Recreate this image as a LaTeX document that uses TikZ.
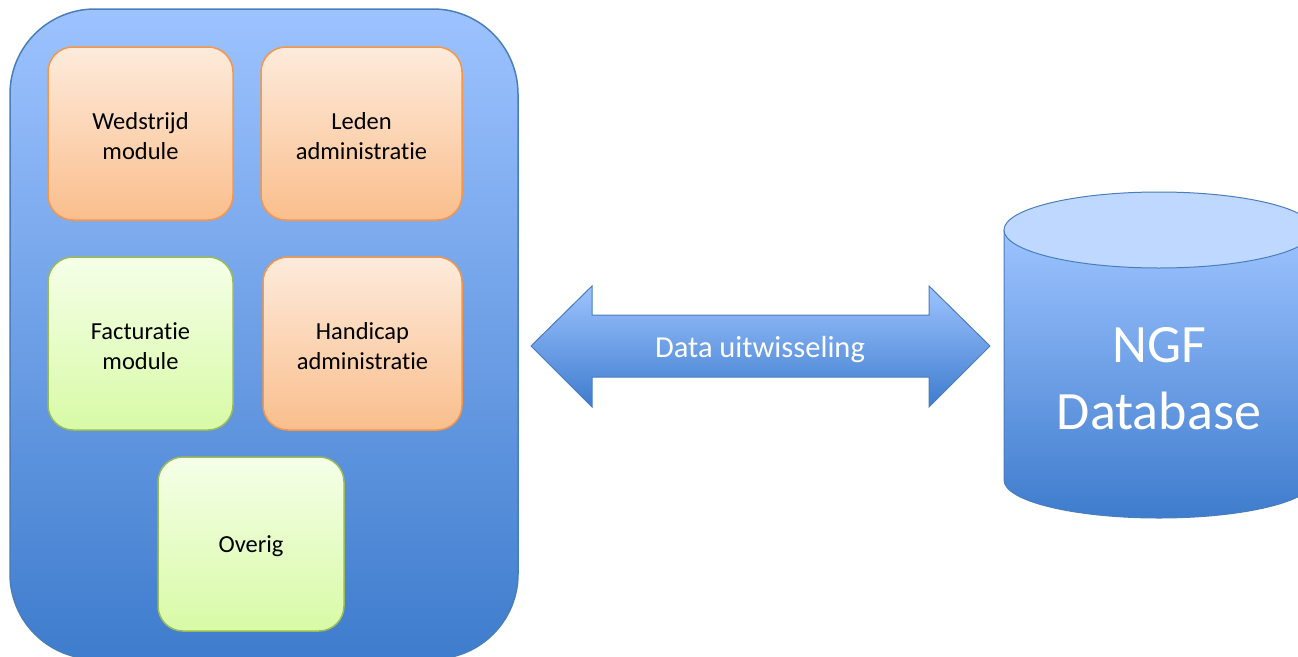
\documentclass[tikz,border=0pt]{standalone}
\usepackage{fontspec}
\setmainfont{Carlito}[RawFeature=-liga]
\definecolor{bgtop}{RGB}{157,195,255}
\definecolor{bgbot}{RGB}{62,124,205}
\definecolor{bgline}{RGB}{74,126,187}
\definecolor{ortop}{RGB}{253,235,220}
\definecolor{orbot}{RGB}{250,190,140}
\definecolor{orline}{RGB}{247,150,70}
\definecolor{grtop}{RGB}{245,255,232}
\definecolor{grbot}{RGB}{216,250,166}
\definecolor{grline}{RGB}{155,187,89}
\definecolor{cyltop}{RGB}{190,216,255}
\tikzset{
  modbox/.style={draw, line width=1.5pt, rounded corners=25pt, align=center,
    font=\fontsize{24.5}{30}\selectfont, text=black, inner sep=0pt},
  orbox/.style={modbox, draw=orline, top color=ortop, bottom color=orbot},
  grbox/.style={modbox, draw=grline, top color=grtop, bottom color=grbot},
}
\begin{document}
\begin{tikzpicture}[x=1pt,y=-1pt]
\useasboundingbox (0,0) rectangle (1298,656);
\clip (0,0) rectangle (1298,656);
% main container
\node[draw=bgline, line width=1.5pt, rounded corners=85pt, top color=bgtop, bottom color=bgbot,
  minimum width=508pt, minimum height=650pt, inner sep=0pt] (main) at (264,334) {};
% modules
\node[orbox, minimum width=185pt, minimum height=173pt] (wed) at (140.5,133.5) {};
\node[font=\fontsize{24.5}{30}\selectfont, align=center] (wedt) at (140.5,136) {Wedstrijd\\module};
\node[orbox, minimum width=201pt, minimum height=173pt] (leden) at (361.5,133.5) {};
\node[font=\fontsize{24.5}{30}\selectfont, align=center] (ledent) at (361.5,136) {Leden\\administratie};
\node[grbox, minimum width=185pt, minimum height=173pt] (fact) at (140.5,343.5) {};
\node[font=\fontsize{24.5}{30}\selectfont, align=center] (factt) at (140.5,346) {Facturatie\\module};
\node[orbox, minimum width=199pt, minimum height=173pt] (hcp) at (362.5,343.5) {};
\node[font=\fontsize{24.5}{30}\selectfont, align=center] (hcpt) at (362.5,346) {Handicap\\administratie};
\node[grbox, minimum width=186pt, minimum height=174pt] (ov) at (251,544) {};
\node[font=\fontsize{24.5}{30}\selectfont] (ovt) at (251,546.5) {Overig};
% double arrow
\shade[top color=bgtop, bottom color=bgbot, draw=bgline, line width=1pt]
  (531,346) -- (592,286) -- (592,315) -- (929,315) -- (929,286) -- (990,346)
  -- (929,407) -- (929,377) -- (592,377) -- (592,407) -- cycle;
\node[text=white, font=\fontsize{30.5}{36}\selectfont] (xchg) at (760,349.5) {Data uitwisseling};
% cylinder
\shade[top color=bgtop, bottom color=bgbot, draw=bgline, line width=1pt]
  (1004,230) -- (1004,480) arc[start angle=180, end angle=360, x radius=155pt, y radius=38pt]
  -- (1314,230) -- cycle;
\filldraw[fill=cyltop, draw=bgline, line width=1pt] (1159,230) ellipse [x radius=155pt, y radius=38pt];
\node[text=white, align=center, font=\fontsize{54}{67}\selectfont] (db) at (1159,379) {NGF\\Database};
\end{tikzpicture}
\end{document}
